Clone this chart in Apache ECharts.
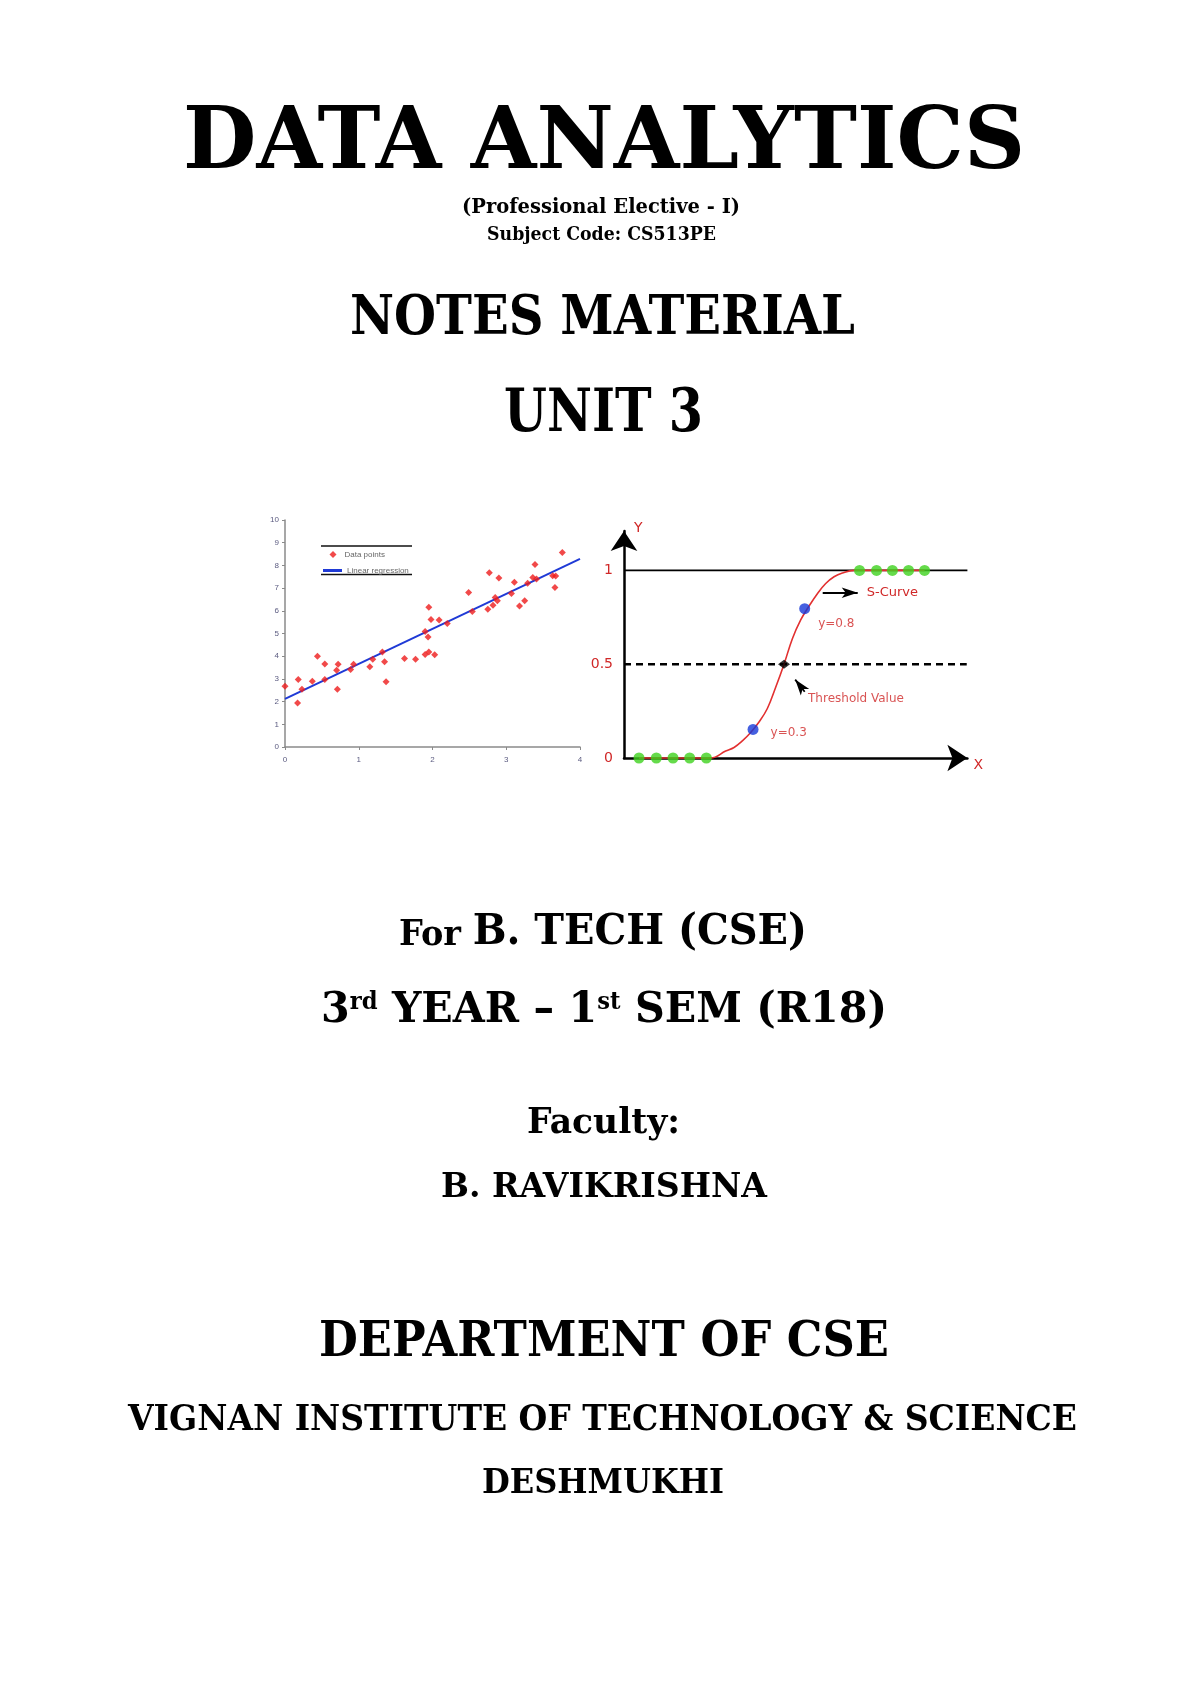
<!DOCTYPE html>
<html>
<head>
<meta charset="utf-8">
<script src="https://cdn.jsdelivr.net/npm/echarts@6/dist/echarts.min.js"></script>
<style>
html,body{margin:0;padding:0;background:#fff;}
#c{width:1200px;height:1698px;}
</style>
</head>
<body>
<div id="c"></div>
<script>
// ---------- DATA: linear regression scatter ----------
const scatterX = [0.00,0.17,0.18,0.23,0.37,0.44,0.54,0.54,0.71,0.70,0.72,0.89,0.93,1.15,1.19,1.32,1.35,1.37,1.62,1.77,
                  1.90,1.90,1.94,1.95,1.95,1.98,2.03,2.09,2.20,2.49,2.54,2.75,2.77,2.82,2.85,2.88,2.90,3.07,3.11,3.18,
                  3.25,3.29,3.36,3.39,3.41,3.63,3.66,3.67,3.76,4.01];
const scatterY = [2.68,1.94,2.97,2.54,2.90,4.00,3.66,2.97,2.54,3.38,3.65,3.41,3.65,3.53,3.87,4.18,3.76,2.87,3.90,3.87,
                  5.09,4.07,4.85,4.19,6.16,5.62,4.06,5.60,5.44,6.81,5.97,6.07,7.68,6.24,6.59,6.44,7.44,6.76,7.26,6.21,
                  6.44,7.21,7.47,8.04,7.40,7.54,7.03,7.53,8.57,9.15];
const regressionX = [0, 4];
const regressionY = [2.12, 8.29];
const scatterXTicks = [0, 1, 2, 3, 4];
const scatterYTicks = [0,1,2,3,4,5,6,7,8,9,10];

// ---------- DATA: logistic S-curve ----------
const curveX = [-8.70,-4.40,-3.50,-3.00,-2.50,-2.00,-1.50,-1.00,-0.50,0.00,0.50,1.00,1.50,2.00,2.50,3.00,3.50,4.20,8.43];
const curveY = [0.000, 0.000, 0.037, 0.056, 0.091, 0.136, 0.192, 0.264, 0.377, 0.500, 0.636, 0.736, 0.810, 0.876, 0.930, 0.966, 0.986, 1.000, 1.000];
const greenX = [-8.70,-7.66,-6.66,-5.66,-4.66, 4.53,5.55,6.50,7.47,8.43];
const greenY = [0,0,0,0,0, 1,1,1,1,1];
const blueX = [-1.86, 1.24];
const blueY = [0.152, 0.796];
const blueLabels = ['y=0.3', 'y=0.8'];
const thresholdPoint = [0, 0.5];
const sTicks = ['0', '0.5', '1'];

// ---------- page text ----------
const TEXT_LINES = [
  {parts:[{t:'DATA ANALYTICS'}], cap:63, cy:141.5, x0:183, x1:1025, w:'bold'},
  {parts:[{t:'(Professional Elective - I)'}], cap:15, cy:207, x0:462, x1:740, w:'bold'},
  {parts:[{t:'Subject Code: CS513PE'}], cap:13, cy:234, x0:487, x1:716, w:'bold'},
  {parts:[{t:'NOTES MATERIAL'}], cap:40, cy:317, x0:350, x1:855, w:'bold'},
  {parts:[{t:'UNIT 3'}], cap:43, cy:412.5, x0:504, x1:703, w:'bold'},
  {parts:[{t:'For ', cap:26},{t:'B. TECH (CSE)'}], cap:31, cy:931, x0:399, x1:807, w:'bold'},
  {parts:[{t:'3'},{t:'rd',sup:true},{t:' YEAR – 1'},{t:'st',sup:true},{t:' SEM (R18)'}], cap:31, cy:1009, x0:321, x1:887, w:'bold'},
  {parts:[{t:'Faculty:'}], cap:26, cy:1122, x0:527, x1:680, w:'bold'},
  {parts:[{t:'B. RAVIKRISHNA'}], cap:25, cy:1186.5, x0:441, x1:767, w:'bold'},
  {parts:[{t:'DEPARTMENT OF CSE'}], cap:35, cy:1341.5, x0:319, x1:889, w:'bold'},
  {parts:[{t:'VIGNAN INSTITUTE OF TECHNOLOGY & SCIENCE'}], cap:26, cy:1418.5, x0:128, x1:1077, w:'bold'},
  {parts:[{t:'DESHMUKHI'}], cap:25, cy:1482.5, x0:482, x1:724, w:'bold'}
];

const FAMILY = '"DejaVu Serif"';
const CAP_RATIO = 0.729;
const V_SHIFT = 0.05;
const mctx = document.createElement('canvas').getContext('2d');
function measure(text, font) { mctx.font = font; return mctx.measureText(text).width; }

const graphics = [];
TEXT_LINES.forEach(function (line) {
  const mainSize = line.cap / CAP_RATIO;
  const baseline = line.cy + line.cap / 2;
  const capTop = line.cy - line.cap / 2;
  const items = line.parts.map(function (p) {
    let size, cy;
    if (p.sup) {
      size = mainSize * 0.55;
      cy = capTop + size * 0.36;
    } else {
      const c = p.cap || line.cap;
      size = c / CAP_RATIO;
      cy = baseline - c / 2;
    }
    const font = line.w + ' ' + size.toFixed(2) + 'px ' + FAMILY;
    return {t: p.t, font: font, cy: cy + size * V_SHIFT, w: measure(p.t, font)};
  });
  const total = items.reduce(function (s, it) { return s + it.w; }, 0);
  const sx = (line.x1 - line.x0) / total;
  let cur = line.x0;
  items.forEach(function (it) {
    graphics.push({
      type: 'text', x: cur, y: it.cy, scaleX: sx, silent: true,
      style: {text: it.t, x: 0, y: 0, font: it.font, fill: '#000',
              textAlign: 'left', align: 'left', textVerticalAlign: 'middle', verticalAlign: 'middle'}
    });
    cur += it.w * sx;
  });
});

// legend frame lines of scatter chart
graphics.push({type:'line', silent:true, shape:{x1:321, y1:546, x2:412, y2:546}, style:{stroke:'#111', lineWidth:1.3}});
graphics.push({type:'line', silent:true, shape:{x1:321, y1:574.5, x2:412, y2:574.5}, style:{stroke:'#111', lineWidth:1.3}});

const RED_TXT = '#d02828';
const SANS = 'DejaVu Sans';

const chart = echarts.init(document.getElementById('c'), null, {renderer: 'canvas'});
chart.setOption({
  animation: false,
  backgroundColor: '#fff',
  grid: [
    {left: 285, top: 520, width: 295, height: 227},
    {left: 624, top: 531, width: 343.4, height: 227}
  ],
  legend: [
    {
      left: 329.5, top: 550.5, orient: 'vertical', padding: 0,
      itemWidth: 7, itemHeight: 7,
      textStyle: {fontSize: 8, color: '#666', fontFamily: 'Arial', padding: [0, 0, 0, 3]},
      data: [{name: 'Data points', icon: 'diamond'}]
    },
    {
      left: 323, top: 566.5, orient: 'vertical', padding: 0,
      itemWidth: 19, itemHeight: 3,
      textStyle: {fontSize: 8, color: '#666', fontFamily: 'Arial'},
      data: [{name: 'Linear regression', icon: 'rect'}]
    }
  ],
  xAxis: [
    {
      gridIndex: 0, type: 'value', min: scatterXTicks[0], max: scatterXTicks[scatterXTicks.length - 1], interval: 1,
      axisLine: {lineStyle: {color: '#8a8a8a', width: 1.5}},
      axisTick: {show: true, length: 3, lineStyle: {color: '#8a8a8a'}},
      axisLabel: {fontSize: 8, color: '#5b5b80', margin: 9, fontFamily: 'Arial'},
      splitLine: {show: false}
    },
    {
      gridIndex: 1, type: 'value', min: -9.6, max: 11.0,
      name: 'X', nameLocation: 'end', nameGap: 6,
      nameTextStyle: {color: RED_TXT, fontSize: 14, fontFamily: SANS, verticalAlign: 'top', align: 'left'},
      axisLine: {onZero: false, lineStyle: {color: '#000', width: 2.5}, symbol: ['none', 'arrow'], symbolSize: [20, 20]},
      axisTick: {show: false}, axisLabel: {show: false}, splitLine: {show: false}
    }
  ],
  yAxis: [
    {
      gridIndex: 0, type: 'value', min: scatterYTicks[0], max: scatterYTicks[scatterYTicks.length - 1], interval: 1,
      axisLine: {show: true, lineStyle: {color: '#8a8a8a', width: 1.5}},
      axisTick: {show: true, length: 3, lineStyle: {color: '#8a8a8a'}},
      axisLabel: {fontSize: 8, color: '#5b5b80', margin: 6, fontFamily: 'Arial'},
      splitLine: {show: false}
    },
    {
      gridIndex: 1, type: 'value', min: 0, max: 1.21, interval: 0.5,
      name: 'Y', nameLocation: 'end', nameGap: 3,
      nameTextStyle: {color: RED_TXT, fontSize: 14, fontFamily: SANS, align: 'left', verticalAlign: 'middle', padding: [0, 0, 0, 10]},
      axisLine: {show: true, onZero: false, lineStyle: {color: '#000', width: 2.5}, symbol: ['none', 'arrow'], symbolSize: [20, 20]},
      axisTick: {show: false},
      axisLabel: {
        fontSize: 14, color: RED_TXT, margin: 11, fontFamily: SANS,
        formatter: function (v) { const s = String(v); return sTicks.indexOf(s) >= 0 ? s : ''; }
      },
      splitLine: {show: false}
    }
  ],
  series: [
    {
      name: 'Data points', type: 'scatter', xAxisIndex: 0, yAxisIndex: 0,
      symbol: 'diamond', symbolSize: 7, itemStyle: {color: '#ee1c1c'},
      data: scatterX.map(function (x, i) { return [x, scatterY[i]]; }), z: 4
    },
    {
      name: 'Linear regression', type: 'line', xAxisIndex: 0, yAxisIndex: 0,
      symbol: 'none', lineStyle: {color: '#1f3ad6', width: 2}, itemStyle: {color: '#1f3ad6'},
      data: regressionX.map(function (x, i) { return [x, regressionY[i]]; }), z: 3
    },
    {
      name: 'one', type: 'line', xAxisIndex: 1, yAxisIndex: 1, symbol: 'none', silent: true, clip: false,
      lineStyle: {color: '#000', width: 1.6},
      data: [[-9.6, 1], [11.0, 1]], z: 1
    },
    {
      name: 'half', type: 'line', xAxisIndex: 1, yAxisIndex: 1, symbol: 'none', silent: true, clip: false,
      lineStyle: {color: '#000', width: 2.4, type: [7, 5]},
      data: [[-9.6, 0.5], [10.96, 0.5]], z: 1
    },
    {
      name: 'S-curve', type: 'line', xAxisIndex: 1, yAxisIndex: 1, symbol: 'none', clip: false,
      smooth: 0.4,
      lineStyle: {color: '#e23030', width: 1.6},
      data: curveX.map(function (x, i) { return [x, curveY[i]]; }), z: 2,
      markLine: {
        silent: true, symbol: ['none', 'arrow'], animation: false,
        label: {show: false},
        data: [
          [
            {coord: [2.32, 0.881], symbolSize: [13, 15], lineStyle: {color: '#000', width: 2.2, type: 'solid'},
             label: {show: true, position: 'end', formatter: 'S-Curve', color: RED_TXT, fontSize: 13, fontFamily: SANS, distance: 9}},
            {coord: [4.42, 0.881]}
          ],
          [
            {coord: [1.24, 0.353], symbolSize: [10, 12], lineStyle: {color: '#000', width: 1.8, type: 'solid'}, label: {show: false}},
            {coord: [0.67, 0.418]}
          ]
        ]
      }
    },
    {
      name: 'classes', type: 'scatter', xAxisIndex: 1, yAxisIndex: 1, symbolSize: 11,
      itemStyle: {color: '#3fd21e'},
      data: greenX.map(function (x, i) { return [x, greenY[i]]; }), z: 5
    },
    {
      name: 'probabilities', type: 'scatter', xAxisIndex: 1, yAxisIndex: 1, symbolSize: 11,
      itemStyle: {color: '#1638d8'},
      label: {show: true, position: 'right', color: RED_TXT, fontSize: 12, fontFamily: SANS},
      data: blueX.map(function (x, i) {
        return {value: [x, blueY[i]],
                label: i === 0 ? {formatter: blueLabels[i], distance: 12, offset: [0, 3]}
                               : {formatter: blueLabels[i], distance: 8, offset: [0, 15]}};
      }), z: 5
    },
    {
      name: 'threshold', type: 'scatter', xAxisIndex: 1, yAxisIndex: 1, symbol: 'diamond', symbolSize: [12, 9],
      itemStyle: {color: '#000'},
      label: {show: true, position: 'right', formatter: 'Threshold Value', color: RED_TXT, fontSize: 12,
              fontFamily: SANS, distance: 18, offset: [0, 35]},
      data: [thresholdPoint], z: 6
    }
  ],
  graphic: graphics
});
</script>
</body>
</html>
